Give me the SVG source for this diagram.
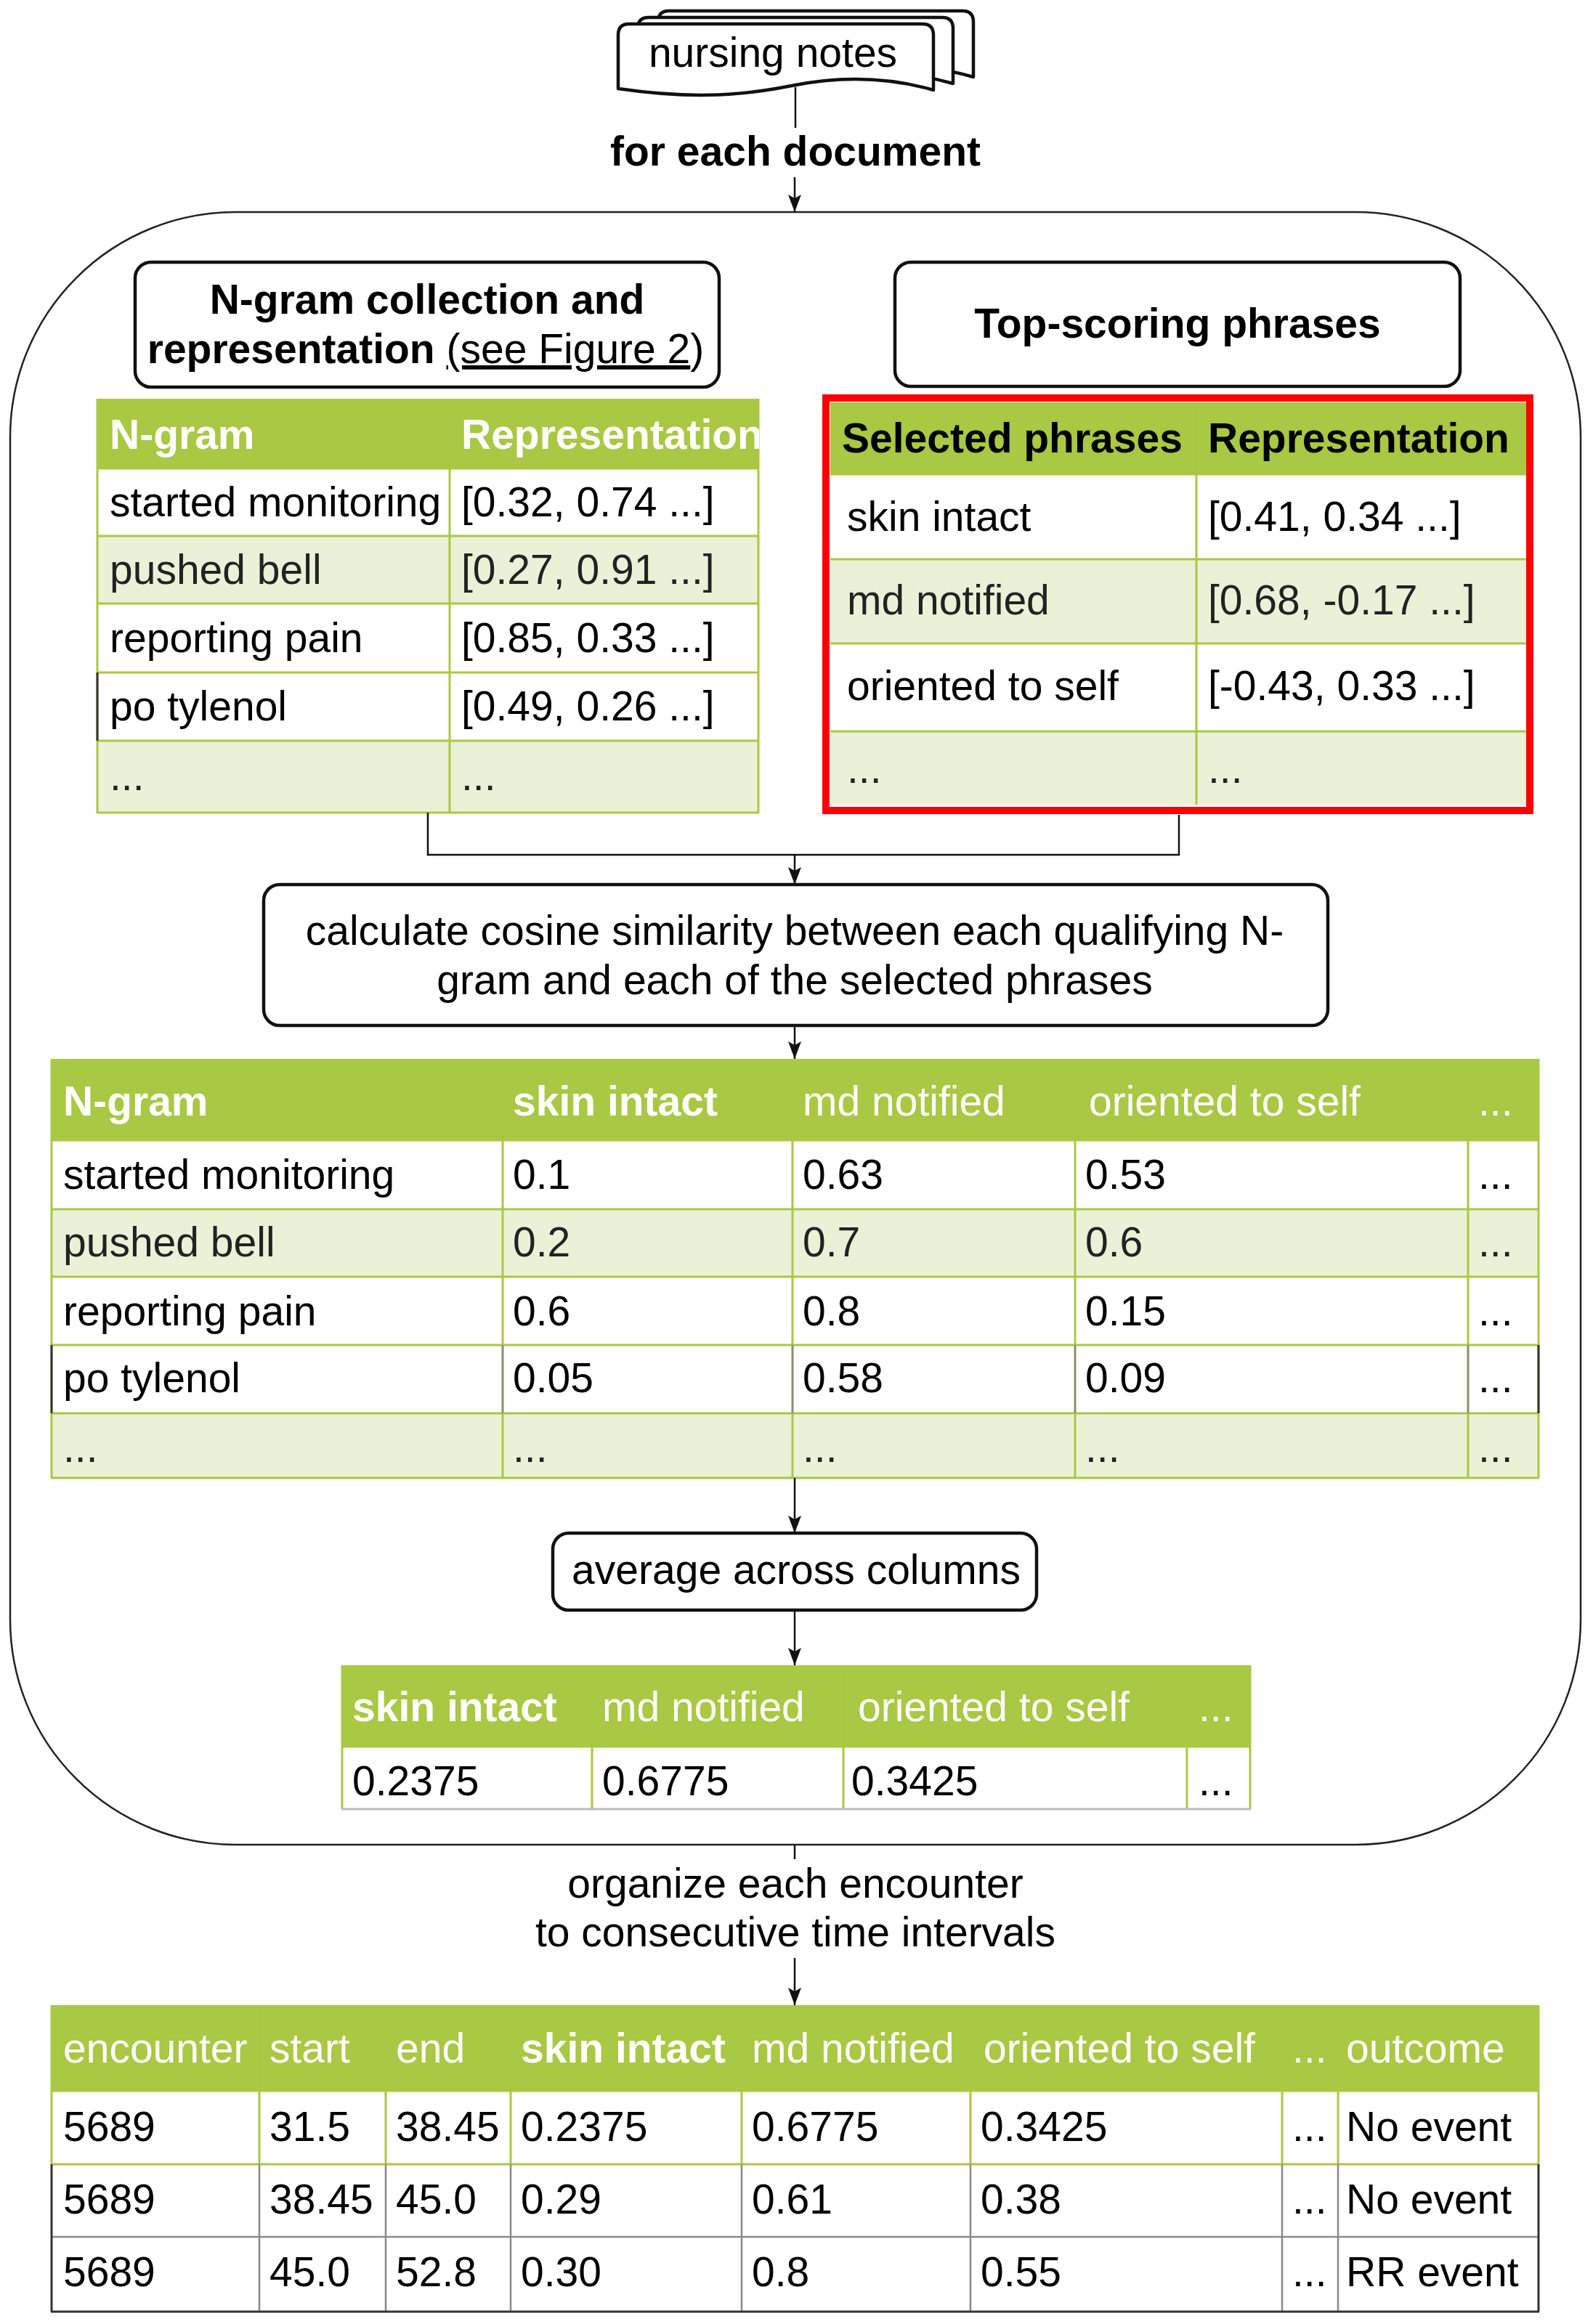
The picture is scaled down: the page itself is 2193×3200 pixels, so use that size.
<svg xmlns="http://www.w3.org/2000/svg" width="2193" height="3200" viewBox="0 0 2193 3200">
<style>
.t{font-family:"Liberation Sans",Arial,sans-serif;font-size:57px;fill:#000}
.b{font-weight:bold}
.w{fill:#fff}
.d{fill:#222}
.m{text-anchor:middle}
.hdr{fill:#A9C843}
.lt{fill:#EBF1D7}
.wh{fill:#fff}
.gl{stroke:#A9C843;stroke-width:3;fill:none}
.gy{stroke:#8a8a8a;stroke-width:2.5;fill:none}
.dk{stroke:#333;stroke-width:3;fill:none}
.box{fill:#fff;stroke:#111;stroke-width:4.5}
.conn{stroke:#111;stroke-width:2.5;fill:none}
.doc{fill:#fff;stroke:#111;stroke-width:4.5;stroke-linejoin:round}
</style>
<defs>
<marker id="ah" markerUnits="userSpaceOnUse" markerWidth="24" markerHeight="18" viewBox="0 0 24 18" refX="24" refY="9" orient="auto">
<path d="M0,0 L24,9 L0,18 L5,9 Z" fill="#111"/>
</marker>
<clipPath id="clipT1"><rect x="133" y="549" width="912" height="570"/></clipPath>
<path id="docshape" d="M851,122 L851,48 Q851,33 866,33 L1270,33 Q1285,33 1285,48 L1285,124 C1215,104 1150,106 1090,118 C1030,130 960,138 851,122 Z"/>
</defs>
<rect width="2193" height="3200" fill="#fff"/>

<g id="nursing-notes">
<use href="#docshape" class="doc" transform="translate(55,-18)"/>
<use href="#docshape" class="doc" transform="translate(27,-9)"/>
<use href="#docshape" class="doc"/>
<text class="t m" x="1064" y="92">nursing notes</text>
</g>

<g id="label-for-each">
<text class="t b m" x="1095" y="228">for each document</text>
</g>

<g id="loop-container">
<rect x="14" y="292" width="2162" height="2248" rx="310" ry="310" fill="none" stroke="#222" stroke-width="2.5"/>
</g>

<g id="ngram-box">
<rect class="box" x="186" y="361" width="804" height="172" rx="22"/>
<text class="t b m" x="588" y="432">N-gram collection and</text>
<text class="t b m" x="586" y="500">representation <tspan font-weight="normal" text-decoration="underline">(see Figure 2</tspan><tspan font-weight="normal">)</tspan></text>
</g>

<g id="top-scoring-box">
<rect class="box" x="1232" y="361" width="778" height="171" rx="22"/>
<text class="t b m" x="1621" y="465">Top-scoring phrases</text>
</g>

<g id="table-ngram">
<rect class="hdr" x="133" y="549" width="912" height="96"/>
<rect class="wh" x="133" y="645" width="912" height="93"/>
<rect class="lt" x="133" y="738" width="912" height="93"/>
<rect class="wh" x="133" y="831" width="912" height="95"/>
<rect class="wh" x="133" y="926" width="912" height="94"/>
<rect class="lt" x="133" y="1020" width="912" height="99"/>
<path class="gl" d="M133,645H1045M133,738H1045M133,831H1045M133,926H1045M133,1020H1045M133,1119H1045M134,549V1119M619,549V1119M1044,549V1119"/>
<path class="dk" d="M134,926V1020" stroke-width="2"/>
<g clip-path="url(#clipT1)">
<text class="t b w" x="151" y="618">N-gram</text>
<text class="t b w" x="635" y="618">Representation</text>
</g>
<text class="t" x="151" y="711">started monitoring</text>
<text class="t" x="635" y="711">[0.32, 0.74 ...]</text>
<text class="t d" x="151" y="804">pushed bell</text>
<text class="t d" x="635" y="804">[0.27, 0.91 ...]</text>
<text class="t" x="151" y="898">reporting pain</text>
<text class="t" x="635" y="898">[0.85, 0.33 ...]</text>
<text class="t" x="151" y="992">po tylenol</text>
<text class="t" x="635" y="992">[0.49, 0.26 ...]</text>
<text class="t d" x="151" y="1088">...</text>
<text class="t d" x="635" y="1088">...</text>
</g>

<g id="table-selected">
<rect class="hdr" x="1143" y="554" width="960" height="99"/>
<rect class="wh" x="1143" y="653" width="960" height="117"/>
<rect class="lt" x="1143" y="770" width="960" height="116"/>
<rect class="wh" x="1143" y="886" width="960" height="121"/>
<rect class="lt" x="1143" y="1007" width="960" height="101"/>
<path class="gl" d="M1143,653H2103M1143,770H2103M1143,886H2103M1143,1007H2103M1647,554V1108"/>
<rect x="1137" y="548" width="969" height="568" fill="none" stroke="#FF0000" stroke-width="10"/>
<text class="t b" x="1159" y="623">Selected phrases</text>
<text class="t b" x="1663" y="623">Representation</text>
<text class="t" x="1166" y="731">skin intact</text>
<text class="t" x="1663" y="731">[0.41, 0.34 ...]</text>
<text class="t d" x="1166" y="846">md notified</text>
<text class="t d" x="1663" y="846">[0.68, -0.17 ...]</text>
<text class="t" x="1166" y="964">oriented to self</text>
<text class="t" x="1663" y="964">[-0.43, 0.33 ...]</text>
<text class="t d" x="1166" y="1078">...</text>
<text class="t d" x="1663" y="1078">...</text>
</g>

<g id="cosine-box">
<rect class="box" x="363" y="1218" width="1465" height="194" rx="22"/>
<text class="t m" x="1094" y="1301">calculate cosine similarity between each qualifying N-</text>
<text class="t m" x="1094" y="1369">gram and each of the selected phrases</text>
</g>

<g id="table-cosine">
<rect class="hdr" x="70" y="1458" width="2049" height="112"/>
<rect class="wh" x="70" y="1570" width="2049" height="95"/>
<rect class="lt" x="70" y="1665" width="2049" height="93"/>
<rect class="wh" x="70" y="1758" width="2049" height="94"/>
<rect class="wh" x="70" y="1852" width="2049" height="94"/>
<rect class="lt" x="70" y="1946" width="2049" height="89"/>
<path class="gl" d="M70,1570H2119M70,1665H2119M70,1758H2119M70,1852H2119M70,1946H2119M70,2035H2119M71,1458V2035M692,1458V2035M1091,1458V2035M1480,1458V2035M2021,1458V2035M2118,1458V2035"/>
<path class="gy" d="M692,1852V1946M1091,1852V1946M1480,1852V1946M2021,1852V1946"/>
<path class="dk" d="M71,1852V1946M2118,1852V1946" stroke-width="2"/>
<text class="t b w" x="87" y="1536">N-gram</text>
<text class="t b w" x="706" y="1536">skin intact</text>
<text class="t w" x="1105" y="1536">md notified</text>
<text class="t w" x="1499" y="1536">oriented to self</text>
<text class="t w" x="2035" y="1536">...</text>
<text class="t" x="87" y="1637">started monitoring</text>
<text class="t" x="706" y="1637">0.1</text>
<text class="t" x="1105" y="1637">0.63</text>
<text class="t" x="1494" y="1637">0.53</text>
<text class="t" x="2035" y="1637">...</text>
<text class="t d" x="87" y="1730">pushed bell</text>
<text class="t d" x="706" y="1730">0.2</text>
<text class="t d" x="1105" y="1730">0.7</text>
<text class="t d" x="1494" y="1730">0.6</text>
<text class="t d" x="2035" y="1730">...</text>
<text class="t" x="87" y="1825">reporting pain</text>
<text class="t" x="706" y="1825">0.6</text>
<text class="t" x="1105" y="1825">0.8</text>
<text class="t" x="1494" y="1825">0.15</text>
<text class="t" x="2035" y="1825">...</text>
<text class="t" x="87" y="1917">po tylenol</text>
<text class="t" x="706" y="1917">0.05</text>
<text class="t" x="1105" y="1917">0.58</text>
<text class="t" x="1494" y="1917">0.09</text>
<text class="t" x="2035" y="1917">...</text>
<text class="t d" x="87" y="2013">...</text>
<text class="t d" x="706" y="2013">...</text>
<text class="t d" x="1105" y="2013">...</text>
<text class="t d" x="1494" y="2013">...</text>
<text class="t d" x="2035" y="2013">...</text>
</g>

<g id="average-box">
<rect class="box" x="761" y="2111" width="666" height="106" rx="22"/>
<text class="t m" x="1096" y="2181">average across columns</text>
</g>

<g id="table-average">
<rect class="hdr" x="470" y="2293" width="1252" height="112"/>
<rect class="wh" x="470" y="2405" width="1252" height="86"/>
<path class="gl" d="M470,2405H1722M471,2293V2491M815,2293V2491M1161,2293V2491M1634,2293V2491M1721,2293V2491"/>
<path d="M470,2491H1722" stroke="#bbb" stroke-width="3"/>
<text class="t b w" x="485" y="2370">skin intact</text>
<text class="t w" x="829" y="2370">md notified</text>
<text class="t w" x="1181" y="2370">oriented to self</text>
<text class="t w" x="1650" y="2370">...</text>
<text class="t" x="485" y="2472">0.2375</text>
<text class="t" x="829" y="2472">0.6775</text>
<text class="t" x="1172" y="2472">0.3425</text>
<text class="t" x="1650" y="2472">...</text>
</g>

<g id="label-organize">
<text class="t m" x="1095" y="2613">organize each encounter</text>
<text class="t m" x="1095" y="2680">to consecutive time intervals</text>
</g>

<g id="table-final">
<rect class="hdr" x="70" y="2761" width="2049" height="118"/>
<rect class="wh" x="70" y="2879" width="2049" height="304"/>
<path class="gl" d="M70,2879H2119M70,2980H2119M71,2761V2980M357,2761V2980M531,2761V2980M703,2761V2980M1021,2761V2980M1336,2761V2980M1765,2761V2980M1842,2761V2980M2118,2761V2980"/>
<path class="gy" d="M70,3080H2119M357,2980V3183M531,2980V3183M703,2980V3183M1021,2980V3183M1336,2980V3183M1765,2980V3183M1842,2980V3183"/>
<path class="dk" d="M71,2980V3183M2118,2980V3183M70,3183H2119"/>
<text class="t w" x="87" y="2840">encounter</text>
<text class="t w" x="371" y="2840">start</text>
<text class="t w" x="545" y="2840">end</text>
<text class="t b w" x="717" y="2840">skin intact</text>
<text class="t w" x="1035" y="2840">md notified</text>
<text class="t w" x="1354" y="2840">oriented to self</text>
<text class="t w" x="1779" y="2840">...</text>
<text class="t w" x="1853" y="2840">outcome</text>
<text class="t" x="87" y="2948">5689</text>
<text class="t" x="371" y="2948">31.5</text>
<text class="t" x="545" y="2948">38.45</text>
<text class="t" x="717" y="2948">0.2375</text>
<text class="t" x="1035" y="2948">0.6775</text>
<text class="t" x="1350" y="2948">0.3425</text>
<text class="t" x="1779" y="2948">...</text>
<text class="t" x="1853" y="2948">No event</text>
<text class="t" x="87" y="3048">5689</text>
<text class="t" x="371" y="3048">38.45</text>
<text class="t" x="545" y="3048">45.0</text>
<text class="t" x="717" y="3048">0.29</text>
<text class="t" x="1035" y="3048">0.61</text>
<text class="t" x="1350" y="3048">0.38</text>
<text class="t" x="1779" y="3048">...</text>
<text class="t" x="1853" y="3048">No event</text>
<text class="t" x="87" y="3148">5689</text>
<text class="t" x="371" y="3148">45.0</text>
<text class="t" x="545" y="3148">52.8</text>
<text class="t" x="717" y="3148">0.30</text>
<text class="t" x="1035" y="3148">0.8</text>
<text class="t" x="1350" y="3148">0.55</text>
<text class="t" x="1779" y="3148">...</text>
<text class="t" x="1853" y="3148">RR event</text>
</g>

<g id="connectors">
<path class="conn" d="M1095,120V176"/>
<path class="conn" d="M1094,244V292" marker-end="url(#ah)"/>
<path class="conn" d="M589,1119V1177H1623V1122"/>
<path class="conn" d="M1094,1177V1218" marker-end="url(#ah)"/>
<path class="conn" d="M1094,1412V1458" marker-end="url(#ah)"/>
<path class="conn" d="M1094,2035V2111" marker-end="url(#ah)"/>
<path class="conn" d="M1094,2217V2293" marker-end="url(#ah)"/>
<path class="conn" d="M1094,2540V2560"/>
<path class="conn" d="M1094,2696V2761" marker-end="url(#ah)"/>
</g>
</svg>
